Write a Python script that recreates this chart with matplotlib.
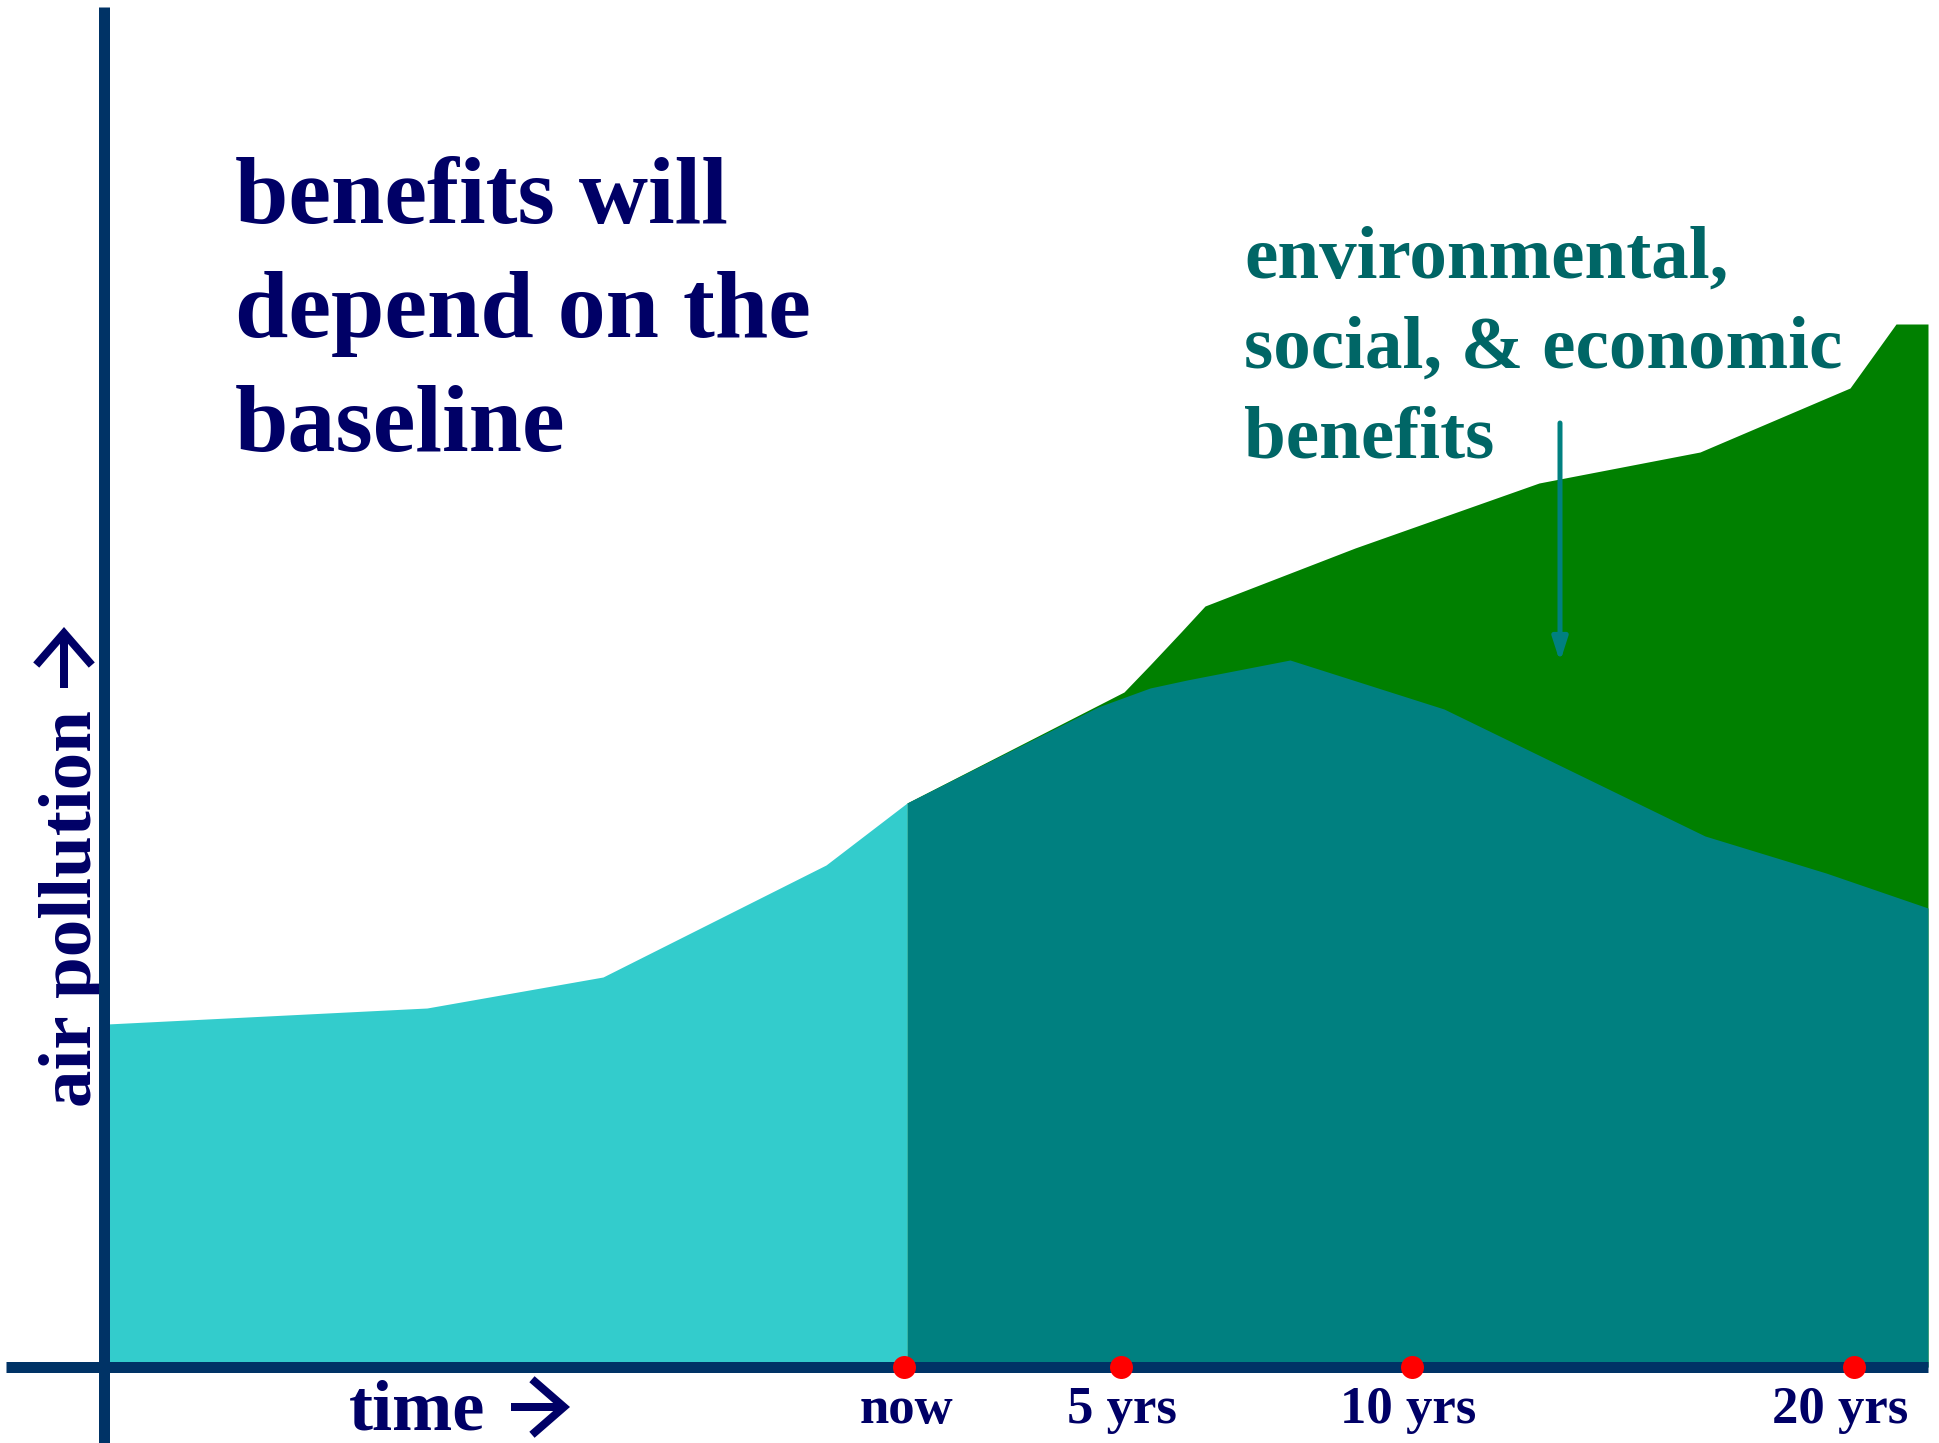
import matplotlib
matplotlib.use('Agg')
import matplotlib.pyplot as plt

# ---- data (x: position along the time axis, y: air pollution above the axis) ----
past_x = [107, 427, 603, 826, 907]
past_y = [343, 359, 390, 502, 564]

bau_x = [907, 1124, 1150, 1181, 1205, 1355, 1539, 1700, 1850, 1896, 1928]
bau_y = [564, 675, 702, 735, 761, 819, 884, 915, 979, 1043, 1043]

policy_x = [907, 1098, 1150, 1187, 1290, 1444, 1705, 1826, 1928]
policy_y = [564, 660, 679, 687, 707, 658, 531, 494, 459]

tick_x = [904, 1121, 1412, 1854]
tick_labels = ['now', '5 yrs', '10 yrs', '20 yrs']

title_lines = ['benefits will', 'depend on the', 'baseline']
benefit_lines = ['environmental,', 'social, & economic', 'benefits']

# ---- styles / layout ----
W, H, DPI = 1940, 1443, 100
Y0 = 1367  # pixel row of the time axis
label_dx = [2, 1, -4, -14]
C_CYAN = '#33CCCC'
C_TEAL = '#008080'
C_GREEN = '#008000'
C_AXIS = '#003366'
C_NAVY = '#000066'
C_DTEAL = '#006666'
FONT = ['Liberation Serif', 'DejaVu Serif']
PT = 72 / DPI

fig = plt.figure(figsize=(W / DPI, H / DPI), dpi=DPI)
ax = fig.add_axes([0, 0, 1, 1])
ax.set_xlim(0, W)
ax.set_ylim(-(H - Y0), Y0)
ax.axis('off')

ax.fill_between(bau_x, 0, bau_y, color=C_GREEN, lw=0, zorder=1)
ax.fill_between(policy_x, 0, policy_y, color=C_TEAL, lw=0, zorder=2)
ax.fill_between(past_x, 0, past_y, color=C_CYAN, lw=0, zorder=3)

lw_axis = 11 * PT
ax.plot([104.5, 104.5], [-(H - Y0), Y0 - 7], color=C_AXIS, lw=lw_axis,
        solid_capstyle='butt', zorder=5)
ax.plot([6, 1928], [0, 0], color=C_AXIS, lw=lw_axis, solid_capstyle='butt', zorder=5)

ax.plot(tick_x, [0] * len(tick_x), 'o', color='#FF0000', ms=23 * PT,
        mec='none', zorder=6)
for x, dx, lab in zip(tick_x, label_dx, tick_labels):
    ax.text(x + dx, Y0 - 1423, lab, ha='center', va='baseline', fontsize=38,
            fontweight='bold', family=FONT, color=C_NAVY)

# x-axis title with heavy arrow
ax.text(349, Y0 - 1430, 'time', ha='left', va='baseline', fontsize=52,
        fontweight='bold', family=FONT, color=C_NAVY)
arrow_kw = dict(arrowstyle='->,head_length=2.3,head_width=2.0', color=C_NAVY,
                lw=8 * PT, shrinkA=0, shrinkB=0, mutation_scale=10,
                joinstyle='miter', capstyle='butt')
ax.annotate('', xy=(570, Y0 - 1407), xytext=(511, Y0 - 1407), arrowprops=arrow_kw)

# y-axis title with heavy arrow
ax.text(73, Y0 - 909, 'air pollution', ha='center', va='center',
        rotation=90, fontsize=54, fontweight='bold', family=FONT, color=C_NAVY)
ax.annotate('', xy=(64, Y0 - 627), xytext=(64, Y0 - 688), arrowprops=arrow_kw)

for i, line in enumerate(title_lines):
    ax.text(235, Y0 - (223 + 114 * i), line, ha='left', va='baseline',
            fontsize=69, fontweight='bold', family=FONT, color=C_NAVY)

for i, line in enumerate(benefit_lines):
    ax.text(1244, Y0 - (278 + 90 * i), line, ha='left', va='baseline',
            fontsize=54, fontweight='bold', family=FONT, color=C_DTEAL)

ax.annotate('', xy=(1560, Y0 - 662), xytext=(1560, Y0 - 423),
            arrowprops=dict(arrowstyle='-|>,head_length=1.4,head_width=0.45',
                            color=C_TEAL, lw=5 * PT, shrinkA=0, shrinkB=0),
            zorder=7)

fig.savefig('out.png', dpi=DPI)
